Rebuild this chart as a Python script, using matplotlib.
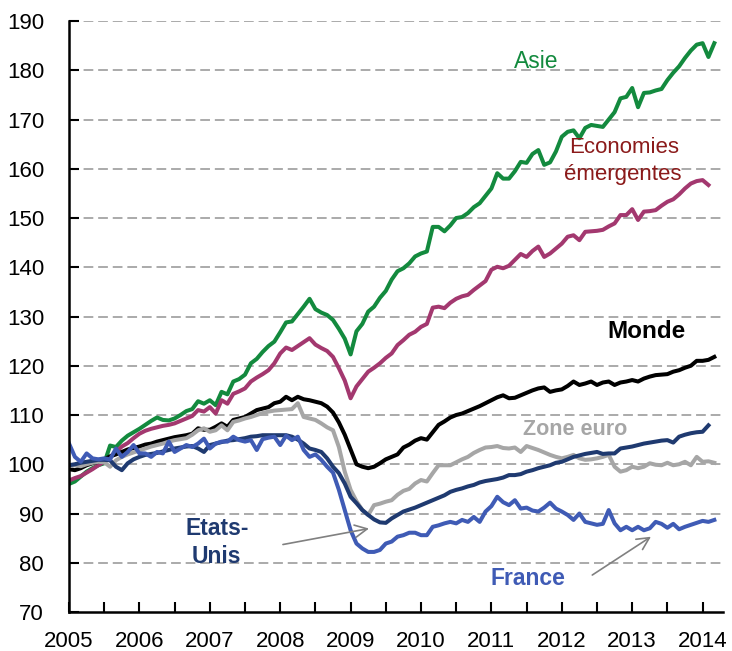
import numpy as np
import matplotlib
matplotlib.use('Agg')
import matplotlib.pyplot as plt

plt.rcParams['font.family'] = ['Liberation Sans', 'DejaVu Sans']

# indices mensuels, janvier 2005 = mois 0
asie = [96.0, 96.5, 97.5, 98.5, 99.2, 99.8, 100.2, 103.8, 103.5, 104.8, 105.8, 106.5,
        107.2, 108.0, 108.8, 109.5, 109.0, 108.9, 109.3, 110.0, 110.8, 111.2, 112.8, 112.3,
        113.0, 112.0, 114.7, 114.2, 116.8, 117.3, 118.2, 120.5, 121.4, 122.8, 124.0, 124.9,
        126.8, 128.8, 129.0, 130.5, 132.0, 133.6, 131.5, 130.8, 130.3, 129.3, 127.5, 125.5,
        122.3, 127.0, 128.5, 131.0, 132.0, 133.8, 135.2, 137.5, 139.2, 139.8, 140.8, 142.2,
        142.8, 143.2, 148.2, 148.2, 147.3, 148.5, 150.0, 150.2, 151.0, 152.2, 153.0, 154.5,
        156.0, 159.1, 158.0, 158.0, 159.5, 161.4, 161.2, 163.0, 163.8, 160.8, 161.3, 163.5,
        166.5, 167.5, 167.8, 166.2, 168.3, 168.9, 168.7, 168.5, 170.0, 171.5, 174.3, 174.6,
        176.4, 172.5, 175.4, 175.5, 175.9, 176.2, 178.0, 179.5, 180.8, 182.5, 184.0, 185.2,
        185.5, 182.7, 185.5]

emergents = [96.7, 97.2, 97.6, 98.3, 99.0, 99.8, 100.5, 101.5, 102.5, 103.6, 104.3, 105.3,
             106.2, 106.8, 107.2, 107.5, 107.8, 108.0, 108.3, 108.8, 109.3, 109.8, 111.0, 110.7,
             111.6, 110.3, 113.0, 112.3, 114.3, 114.8, 115.4, 116.8, 117.6, 118.3, 119.1, 120.5,
             122.5, 123.7, 123.2, 124.0, 124.8, 125.6, 124.3, 123.6, 123.0, 121.8, 119.5, 117.0,
             113.4, 115.8, 117.3, 118.8, 119.6, 120.5, 121.6, 122.5, 124.2, 125.2, 126.3, 126.9,
             127.9, 128.5, 131.8, 132.0, 131.7, 132.8, 133.6, 134.1, 134.4, 135.4, 136.3, 137.2,
             139.5, 140.1, 139.8, 140.3, 141.5, 142.7, 142.1, 143.3, 144.2, 142.1, 142.8, 143.8,
             144.8, 146.2, 146.5, 145.5, 147.2, 147.3, 147.4, 147.6, 148.3, 148.9, 150.6, 150.6,
             151.8, 149.6, 151.3, 151.4, 151.6, 152.5, 153.3, 153.8, 154.8, 156.0, 157.0, 157.5,
             157.7, 156.7]

monde = [99.0, 98.8, 99.2, 99.8, 100.2, 100.5, 101.0, 101.6, 102.0, 102.5, 103.0, 103.3,
         103.6, 104.0, 104.2, 104.6, 104.9, 105.2, 105.5, 105.7, 105.9, 106.2, 107.3, 107.0,
         107.0, 107.6, 108.3, 107.6, 109.0, 109.3, 109.6, 110.3, 111.0, 111.3, 111.6, 112.4,
         112.7, 113.7, 113.0, 113.7, 113.2, 113.0, 112.7, 112.4, 111.7, 110.5, 108.5, 106.0,
         103.0, 100.0, 99.5, 99.2, 99.5, 100.2, 101.0, 101.5, 102.0, 103.4, 104.0, 104.8,
         105.3, 105.0, 106.5, 108.0, 108.7, 109.5, 110.0, 110.3, 110.8, 111.3, 111.8, 112.4,
         113.0, 113.6, 114.0, 113.4, 113.5, 114.0, 114.5, 115.0, 115.4, 115.6, 114.7, 115.0,
         115.2, 115.9, 116.8, 116.1, 116.4, 116.8, 116.1, 116.6, 116.8, 116.1, 116.6, 116.8,
         117.1, 116.8, 117.4, 117.8, 118.1, 118.2, 118.3, 118.8, 119.1, 119.6, 120.0, 121.0,
         121.0, 121.2, 121.8]

zone_euro = [99.6, 99.8, 99.6, 100.0, 100.3, 100.5, 100.4, 99.5, 100.8, 101.5, 102.0, 102.4,
             102.8, 103.2, 103.6, 103.9, 104.2, 104.6, 104.9, 105.1, 105.3, 106.0, 106.9, 107.3,
             106.6, 106.9, 107.9, 106.9, 108.6, 108.9, 109.3, 109.6, 110.0, 110.4, 110.7, 110.9,
             111.0, 111.1, 111.2, 112.4, 109.6, 109.3, 109.0, 108.3, 107.5, 106.9, 103.5, 98.5,
             94.8, 92.5, 90.7, 89.7, 91.7, 92.0, 92.4, 92.7, 93.8, 94.6, 95.0, 96.1,
             96.8, 96.5, 98.2, 99.8, 99.8, 99.8, 100.4, 101.0, 101.5, 102.3, 102.9, 103.4,
             103.5, 103.7, 103.3, 103.2, 103.4, 102.5, 103.7, 103.3, 102.9, 102.4, 101.9, 101.5,
             101.2, 101.5, 101.9, 101.2, 100.9, 101.0, 101.2, 101.5, 101.9, 99.5, 98.5, 98.8,
             99.5, 99.2, 99.5, 100.2, 99.9, 99.8, 100.3, 99.8, 100.0, 100.5, 99.8, 101.5,
             100.5, 100.6, 100.3]

etats_unis = [99.8, 100.0, 100.3, 100.5, 100.7, 100.9, 100.9, 100.8, 99.5, 98.8, 100.2, 101.0,
              101.5, 101.9, 102.1, 102.3, 102.6, 102.9, 103.2, 103.4, 103.6, 103.7, 103.2, 102.5,
              103.9, 104.2, 104.5, 104.8, 104.9, 105.1, 105.3, 105.6, 105.7, 105.9, 105.9, 105.9,
              105.9, 105.9, 105.6, 105.0, 104.2, 103.2, 102.9, 102.5, 101.2, 99.5, 98.2, 96.1,
              93.4, 92.1, 90.7, 89.7, 88.8, 88.2, 88.1, 89.0, 89.7, 90.4, 90.8, 91.2,
              91.7, 92.2, 92.7, 93.2, 93.7, 94.4, 94.8, 95.1, 95.5, 95.8, 96.3, 96.6,
              96.8, 97.0, 97.3, 97.8, 97.8, 98.0, 98.5, 98.8, 99.2, 99.5, 99.8, 100.3,
              100.5, 101.0, 101.5, 101.8, 102.1, 102.3, 102.5, 102.1, 102.2, 102.2, 103.2, 103.4,
              103.6, 103.9, 104.2, 104.4, 104.6, 104.8, 104.9, 104.4, 105.6, 106.0, 106.3, 106.5,
              106.6, 107.9]

france = [104.2, 101.5, 100.5, 102.2, 101.2, 101.0, 101.2, 101.0, 103.2, 101.5, 102.5, 103.9,
          102.2, 102.2, 101.5, 102.5, 102.2, 104.6, 102.5, 103.2, 103.9, 103.5, 104.2, 105.2,
          103.2, 104.2, 104.6, 104.6, 105.6, 104.9, 104.6, 104.9, 102.9, 105.1, 105.4, 105.6,
          103.9, 105.8, 104.9, 105.6, 102.9, 101.5, 102.0, 100.9, 99.5, 98.3, 94.8, 90.7,
          86.6, 83.9, 82.9, 82.2, 82.2, 82.6, 83.9, 84.3, 85.3, 85.6, 86.1, 86.1,
          85.6, 85.6, 87.3, 87.6, 88.0, 88.3, 88.0, 88.7, 88.3, 89.3, 88.3, 90.4,
          91.5, 93.4, 92.3, 91.7, 92.7, 91.0, 91.2, 90.6, 90.4, 91.2, 92.2, 91.0,
          90.4, 89.7, 88.7, 90.0, 88.3, 88.0, 87.7, 87.9, 90.7, 88.0, 86.6, 87.3,
          86.6, 87.3, 86.6, 87.0, 88.3, 87.9, 87.1, 87.9, 86.8, 87.3, 87.7, 88.1,
          88.5, 88.3, 88.7]

def dates(serie):
    return 2005 + np.arange(len(serie)) / 12.0

fig = plt.figure(figsize=(7.32, 6.51), dpi=100)
ax = fig.add_axes([0.0943, 0.0599, 0.8934, 0.9078])

vert = '#138A3E'
magenta = '#A3386F'
gris = '#A6A6A6'
marine = '#1F3A70'
bleu = '#3F5BB5'

lw = 2.9
ax.plot(dates(asie), asie, color=vert, lw=lw)
ax.plot(dates(emergents), emergents, color=magenta, lw=lw)
ax.plot(dates(monde), monde, color='black', lw=lw)
ax.plot(dates(zone_euro), zone_euro, color=gris, lw=lw)
ax.plot(dates(etats_unis), etats_unis, color=marine, lw=lw)
ax.plot(dates(france), france, color=bleu, lw=lw)

ax.set_xlim(2005, 2014.29)
ax.set_ylim(70, 190)

for v in range(80, 200, 10):
    ax.axhline(v, color='#AAAAAA', lw=1.4, ls=(0, (5, 2.5)), zorder=0)

ax.set_yticks(range(70, 200, 10))
ax.set_xticks(range(2005, 2015))
ax.set_xticks(np.arange(2005.5, 2014.3, 1.0), minor=True)
ax.tick_params(axis='both', which='both', direction='in', length=7, width=1.5,
               labelsize=16, colors='black')
ax.tick_params(axis='x', pad=14)
ax.tick_params(axis='y', pad=18)

for s in ['top', 'right']:
    ax.spines[s].set_visible(False)
for s in ['left', 'bottom']:
    ax.spines[s].set_linewidth(1.8)

# etiquettes des series
ax.text(2011.63, 181.7, 'Asie', color=vert, fontsize=16.5, ha='center', va='center')
ax.text(2012.88, 164.3, 'Economies', color='#8B1A1A', fontsize=16, ha='center', va='center')
ax.text(2012.87, 158.9, 'émergentes', color='#8B1A1A', fontsize=16, ha='center', va='center')
ax.text(2013.21, 126.9, 'Monde', color='black', fontsize=17.5, fontweight='bold',
        ha='center', va='center')
ax.text(2012.19, 107.0, 'Zone euro', color=gris, fontsize=15.5, fontweight='bold',
        ha='center', va='center')
ax.text(2007.10, 86.9, 'Etats-', color=marine, fontsize=16.5, fontweight='bold',
        ha='center', va='center')
ax.text(2007.10, 81.2, 'Unis', color=marine, fontsize=16.5, fontweight='bold',
        ha='center', va='center')
ax.text(2011.52, 76.9, 'France', color=bleu, fontsize=16.5, fontweight='bold',
        ha='center', va='center')

fleche = dict(arrowstyle='->', color='#808080', lw=1.2, mutation_scale=22)
ax.annotate('', xy=(2009.30, 87.05), xytext=(2008.0, 83.6), arrowprops=fleche)
ax.annotate('', xy=(2013.30, 85.6), xytext=(2012.40, 77.2), arrowprops=fleche)

fig.savefig('out.png', dpi=100)
